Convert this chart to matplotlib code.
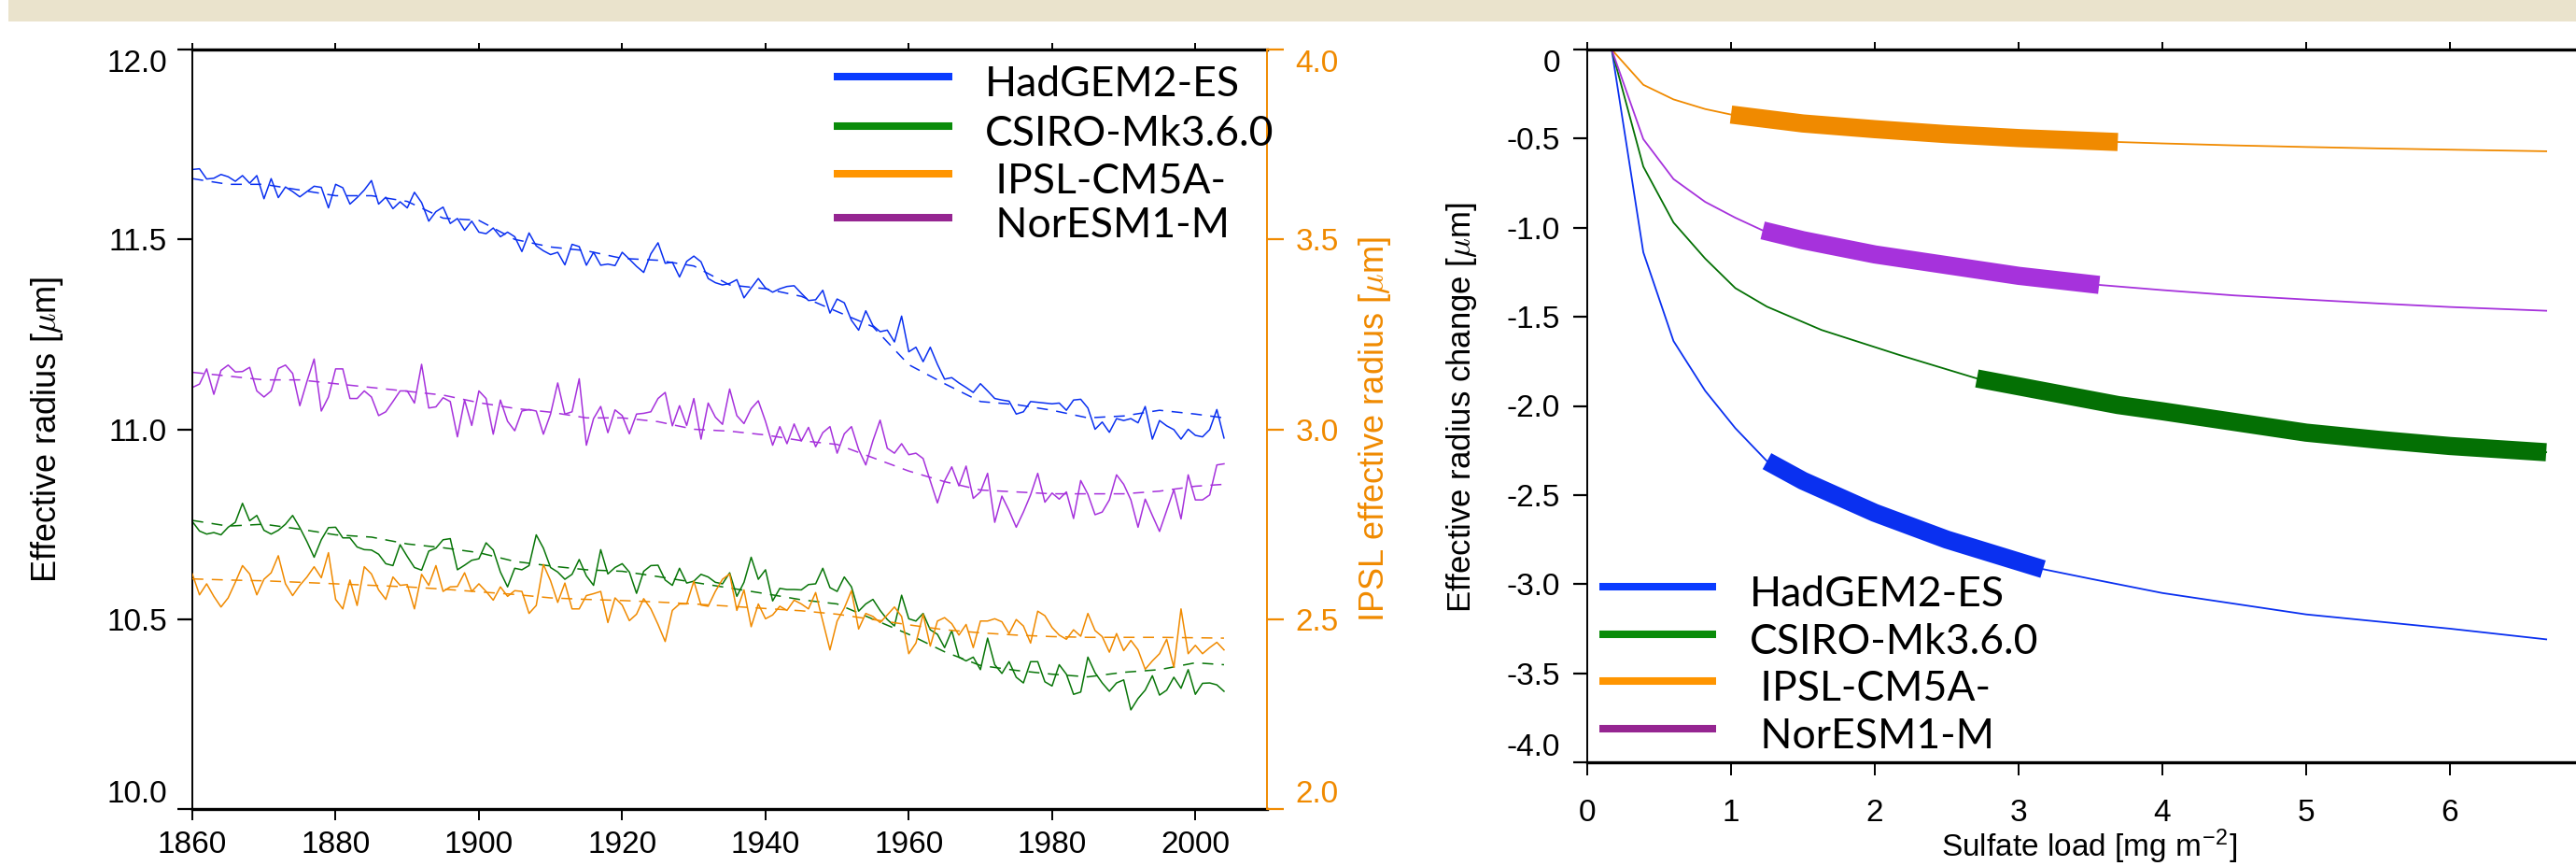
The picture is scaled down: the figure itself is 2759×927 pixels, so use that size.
import matplotlib
matplotlib.use('Agg')
import matplotlib.pyplot as plt
from matplotlib.lines import Line2D
from matplotlib.patches import Rectangle
import numpy as np

# ---------------- data: left panel (annual means 1860-2004) ----------------
years = np.arange(1860, 2005)

had_annual = [
    11.684, 11.686, 11.659, 11.661, 11.671, 11.665, 11.653, 11.668, 11.648, 11.668,
    11.607, 11.660, 11.610, 11.638, 11.626, 11.612, 11.626, 11.640, 11.637, 11.583,
    11.645, 11.636, 11.593, 11.610, 11.630, 11.655, 11.593, 11.611, 11.581, 11.599,
    11.583, 11.624, 11.597, 11.548, 11.573, 11.585, 11.542, 11.555, 11.524, 11.548,
    11.519, 11.515, 11.530, 11.507, 11.519, 11.507, 11.468, 11.517, 11.483, 11.470,
    11.460, 11.466, 11.433, 11.487, 11.481, 11.432, 11.466, 11.432, 11.435, 11.431,
    11.466, 11.448, 11.429, 11.413, 11.462, 11.491, 11.437, 11.440, 11.401, 11.442,
    11.456, 11.441, 11.397, 11.386, 11.380, 11.384, 11.394, 11.346, 11.372, 11.397,
    11.372, 11.361, 11.370, 11.376, 11.378, 11.358, 11.339, 11.341, 11.366, 11.306,
    11.343, 11.333, 11.287, 11.261, 11.312, 11.273, 11.257, 11.261, 11.230, 11.298,
    11.204, 11.216, 11.178, 11.216, 11.171, 11.132, 11.136, 11.122, 11.110, 11.097,
    11.120, 11.101, 11.081, 11.077, 11.074, 11.040, 11.046, 11.073, 11.071, 11.069,
    11.067, 11.069, 11.050, 11.077, 11.079, 11.056, 11.000, 11.019, 10.992, 11.028,
    11.023, 11.028, 11.017, 11.060, 10.974, 11.023, 11.009, 10.999, 10.974, 11.000,
    10.984, 10.980, 10.999, 11.052, 10.977]

nor_annual = [
    11.110, 11.119, 11.159, 11.092, 11.155, 11.169, 11.151, 11.152, 11.163, 11.101,
    11.085, 11.101, 11.160, 11.169, 11.147, 11.062, 11.126, 11.185, 11.048, 11.085,
    11.159, 11.159, 11.081, 11.081, 11.101, 11.085, 11.036, 11.046, 11.073, 11.101,
    11.101, 11.069, 11.171, 11.056, 11.059, 11.083, 11.073, 10.980, 11.077, 11.010,
    11.101, 11.081, 10.987, 11.077, 11.021, 10.996, 11.048, 11.052, 11.048, 10.987,
    11.040, 11.122, 11.040, 11.046, 11.133, 10.958, 11.028, 11.060, 10.991, 11.051,
    11.036, 10.988, 11.040, 11.042, 11.046, 11.081, 11.097, 11.009, 11.062, 11.010,
    11.081, 10.974, 11.069, 11.032, 11.013, 11.106, 11.036, 11.015, 11.054, 11.075,
    11.021, 10.958, 11.007, 10.962, 11.014, 10.969, 11.005, 10.954, 10.991, 11.007,
    10.937, 10.988, 11.007, 10.947, 10.906, 10.970, 11.024, 10.950, 10.937, 10.962,
    10.933, 10.937, 10.923, 10.864, 10.806, 10.864, 10.901, 10.851, 10.903, 10.818,
    10.835, 10.884, 10.755, 10.824, 10.786, 10.742, 10.782, 10.827, 10.884, 10.808,
    10.832, 10.816, 10.835, 10.765, 10.865, 10.829, 10.775, 10.782, 10.814, 10.880,
    10.855, 10.814, 10.742, 10.816, 10.773, 10.731, 10.786, 10.841, 10.764, 10.880,
    10.814, 10.814, 10.827, 10.906, 10.909]

csiro_annual = [
    10.757, 10.732, 10.724, 10.728, 10.722, 10.742, 10.755, 10.805, 10.759, 10.773,
    10.734, 10.724, 10.734, 10.750, 10.773, 10.741, 10.704, 10.663, 10.709, 10.741,
    10.742, 10.714, 10.714, 10.690, 10.683, 10.682, 10.671, 10.646, 10.641, 10.696,
    10.665, 10.636, 10.629, 10.679, 10.687, 10.709, 10.712, 10.630, 10.642, 10.655,
    10.659, 10.701, 10.682, 10.624, 10.585, 10.634, 10.630, 10.641, 10.722, 10.687,
    10.636, 10.624, 10.605, 10.618, 10.657, 10.614, 10.589, 10.683, 10.619, 10.636,
    10.646, 10.624, 10.568, 10.626, 10.641, 10.642, 10.603, 10.589, 10.634, 10.595,
    10.600, 10.618, 10.611, 10.597, 10.593, 10.622, 10.560, 10.597, 10.663, 10.605,
    10.630, 10.548, 10.581, 10.578, 10.578, 10.577, 10.591, 10.593, 10.634, 10.583,
    10.573, 10.611, 10.585, 10.521, 10.540, 10.552, 10.523, 10.499, 10.482, 10.563,
    10.501, 10.495, 10.515, 10.472, 10.460, 10.425, 10.470, 10.400, 10.390, 10.400,
    10.367, 10.450, 10.380, 10.357, 10.388, 10.347, 10.332, 10.388, 10.388, 10.335,
    10.324, 10.380, 10.355, 10.302, 10.308, 10.400, 10.359, 10.332, 10.310, 10.332,
    10.340, 10.261, 10.291, 10.313, 10.351, 10.300, 10.313, 10.347, 10.318, 10.367,
    10.302, 10.331, 10.332, 10.327, 10.310]

ipsl_annual = [
    2.619, 2.564, 2.593, 2.560, 2.532, 2.556, 2.597, 2.641, 2.619, 2.564,
    2.605, 2.622, 2.667, 2.593, 2.562, 2.589, 2.611, 2.638, 2.609, 2.675,
    2.552, 2.527, 2.603, 2.536, 2.638, 2.619, 2.577, 2.552, 2.611, 2.589,
    2.591, 2.527, 2.618, 2.589, 2.641, 2.573, 2.585, 2.586, 2.622, 2.573,
    2.593, 2.573, 2.550, 2.585, 2.560, 2.575, 2.573, 2.515, 2.536, 2.644,
    2.601, 2.544, 2.595, 2.527, 2.527, 2.562, 2.567, 2.573, 2.491, 2.556,
    2.537, 2.496, 2.513, 2.554, 2.527, 2.486, 2.441, 2.523, 2.540, 2.540,
    2.600, 2.537, 2.534, 2.573, 2.605, 2.619, 2.523, 2.577, 2.480, 2.540,
    2.501, 2.511, 2.534, 2.523, 2.550, 2.540, 2.527, 2.570, 2.495, 2.419,
    2.495, 2.529, 2.575, 2.474, 2.515, 2.507, 2.491, 2.511, 2.532, 2.507,
    2.409, 2.437, 2.513, 2.429, 2.495, 2.504, 2.488, 2.458, 2.486, 2.425,
    2.495, 2.495, 2.501, 2.493, 2.462, 2.499, 2.482, 2.437, 2.521, 2.509,
    2.478, 2.458, 2.447, 2.472, 2.455, 2.515, 2.470, 2.454, 2.413, 2.462,
    2.417, 2.444, 2.419, 2.368, 2.390, 2.409, 2.447, 2.373, 2.527, 2.409,
    2.431, 2.409, 2.425, 2.439, 2.419]

# smoothed (dashed) curves, read every 5 years
smooth_years = [1860, 1865, 1870, 1875, 1880, 1885, 1890, 1895, 1900, 1905,
                1910, 1915, 1920, 1925, 1930, 1935, 1940, 1945, 1950, 1955,
                1960, 1965, 1970, 1975, 1980, 1985, 1990, 1995, 2000, 2004]
had_smooth = [11.66, 11.645, 11.645, 11.63, 11.615, 11.615, 11.60, 11.556, 11.55, 11.50,
              11.48, 11.47, 11.45, 11.445, 11.43, 11.38, 11.37, 11.35, 11.31, 11.27,
              11.17, 11.12, 11.073, 11.065, 11.05, 11.03, 11.035, 11.05, 11.04, 11.03]
nor_smooth = [11.15, 11.14, 11.13, 11.13, 11.12, 11.11, 11.10, 11.09, 11.07, 11.055,
              11.045, 11.03, 11.03, 11.02, 11.00, 10.995, 10.985, 10.97, 10.96, 10.925,
              10.89, 10.862, 10.84, 10.835, 10.83, 10.83, 10.83, 10.837, 10.85, 10.855]
csiro_smooth = [10.76, 10.745, 10.75, 10.737, 10.722, 10.716, 10.698, 10.688, 10.675, 10.652,
                10.64, 10.63, 10.626, 10.612, 10.597, 10.582, 10.567, 10.551, 10.54, 10.50,
                10.46, 10.414, 10.378, 10.365, 10.355, 10.348, 10.36, 10.367, 10.385, 10.38]
ipsl_smooth = [2.606, 2.603, 2.601, 2.597, 2.593, 2.589, 2.585, 2.579, 2.572, 2.565,
               2.556, 2.552, 2.549, 2.545, 2.540, 2.534, 2.528, 2.522, 2.513, 2.499,
               2.485, 2.472, 2.464, 2.458, 2.454, 2.452, 2.452, 2.452, 2.451, 2.450]

# ---------------- data: right panel (radius change vs sulfate load) ----------------
had_load = [0.17, 0.39, 0.6, 0.82, 1.03, 1.25, 1.5, 2.0, 2.5, 3.17, 3.5, 4.0, 4.5, 5.0, 5.5, 6.0, 6.67]
had_drad = [0, -1.138, -1.636, -1.915, -2.125, -2.31, -2.42, -2.60, -2.75, -2.916, -2.97, -3.05,
            -3.11, -3.17, -3.21, -3.25, -3.31]
csiro_load = [0.17, 0.39, 0.6, 0.82, 1.03, 1.25, 1.63, 2.17, 2.71, 3.0, 3.69, 4.0, 4.5, 5.0, 5.5, 6.0, 6.67]
csiro_drad = [0, -0.657, -0.971, -1.173, -1.339, -1.443, -1.574, -1.714, -1.846, -1.89, -1.995,
              -2.03, -2.09, -2.15, -2.19, -2.225, -2.26]
ipsl_load = [0.17, 0.39, 0.6, 0.82, 1.0, 1.5, 2.0, 2.5, 3.0, 3.69, 4.0, 4.5, 5.0, 5.5, 6.0, 6.67]
ipsl_drad = [0, -0.198, -0.28, -0.334, -0.365, -0.415, -0.447, -0.475, -0.497, -0.519, -0.527,
             -0.538, -0.547, -0.555, -0.562, -0.571]
nor_load = [0.17, 0.39, 0.6, 0.82, 1.03, 1.22, 1.5, 2.0, 2.5, 3.0, 3.56, 4.0, 4.5, 5.0, 5.5, 6.0, 6.67]
nor_drad = [0, -0.503, -0.727, -0.855, -0.944, -1.015, -1.07, -1.15, -1.21, -1.27, -1.321, -1.35,
            -1.38, -1.403, -1.425, -1.445, -1.466]
# load range covered by each model's historical period (thick band)
band_range = {'had': (1.25, 3.17), 'csiro': (2.71, 6.67), 'ipsl': (1.0, 3.69), 'nor': (1.22, 3.56)}

models = ['HadGEM2-ES', 'CSIRO-Mk3.6.0', ' IPSL-CM5A-', ' NorESM1-M']
left_yticks = [10.0, 10.5, 11.0, 11.5, 12.0]
left_ytick_labels = ['10.0', '10.5', '11.0', '11.5', '12.0']
ipsl_yticks = [2.0, 2.5, 3.0, 3.5, 4.0]
ipsl_ytick_labels = ['2.0', '2.5', '3.0', '3.5', '4.0']
year_ticks = [1860, 1880, 1900, 1920, 1940, 1960, 1980, 2000]
load_ticks = [0, 1, 2, 3, 4, 5, 6]
drad_ticks = [0, -0.5, -1.0, -1.5, -2.0, -2.5, -3.0, -3.5, -4.0]
drad_tick_labels = ['0', '-0.5', '-1.0', '-1.5', '-2.0', '-2.5', '-3.0', '-3.5', '-4.0']

# ---------------- style ----------------
plt.rcParams['font.family'] = ['Liberation Sans', 'DejaVu Sans']
plt.rcParams['mathtext.fontset'] = 'cm'
plt.rcParams['lines.scale_dashes'] = False

W, H = 2759, 927
fig = plt.figure(figsize=(W / 100, H / 100), dpi=100)
fig.patch.set_facecolor('white')

C_BLUE = '#0a30f0'
C_GREEN = '#087508'
C_ORANGE = '#f08a00'
C_PURPLE = '#a632dc'
LEG_COLORS = ['#0a3cff', '#0a8c0a', '#ff9500', '#952591']
TICK_FS = 24

fig.add_artist(Rectangle((9 / W, 1 - 23 / H), 1 - 9 / W, 23 / H, transform=fig.transFigure,
                         facecolor='#EAE3CC', edgecolor='none', zorder=0))

# ---------------- left panel ----------------
ax1 = fig.add_axes([206 / W, 1 - 866 / H, 1151 / W, 813 / H])
ax2 = ax1.twinx()
lw = 1.1
dash = (0, (8.5, 6.5))
ax1.plot(years, had_annual, color=C_BLUE, lw=lw)
ax1.plot(smooth_years, had_smooth, color=C_BLUE, lw=lw, linestyle=dash)
ax1.plot(years, nor_annual, color=C_PURPLE, lw=lw)
ax1.plot(smooth_years, nor_smooth, color=C_PURPLE, lw=lw, linestyle=dash)
ax1.plot(years, csiro_annual, color=C_GREEN, lw=lw)
ax1.plot(smooth_years, csiro_smooth, color=C_GREEN, lw=lw, linestyle=dash)
ax2.plot(years, ipsl_annual, color=C_ORANGE, lw=lw)
ax2.plot(smooth_years, ipsl_smooth, color=C_ORANGE, lw=lw, linestyle=dash)

ax1.set_xlim(1860, 2010)
ax1.set_ylim(10.0, 12.0)
ax2.set_ylim(2.0, 4.0)
ax1.set_xticks(year_ticks)
ax1.set_xticklabels([str(y) for y in year_ticks])
ax1.set_yticks(left_yticks)
ax1.set_yticklabels(left_ytick_labels)
ax2.set_yticks(ipsl_yticks)
ax2.set_yticklabels(ipsl_ytick_labels)

for sp in ['top', 'bottom']:
    ax1.spines[sp].set_linewidth(2.4)
ax1.spines['left'].set_linewidth(1.4)
ax1.spines['right'].set_visible(False)
for sp in ['top', 'bottom', 'left']:
    ax2.spines[sp].set_visible(False)
ax2.spines['right'].set_color(C_ORANGE)
ax2.spines['right'].set_linewidth(1.4)

ax1.tick_params(axis='y', direction='out', length=11.5, width=1.6, pad=8, labelsize=TICK_FS)
ax1.tick_params(axis='x', direction='out', length=8.6, width=1.4, pad=8, labelsize=TICK_FS,
                top=True)
for t in ax1.xaxis.get_major_ticks():
    t.tick2line.set_markersize(5)
ax2.tick_params(axis='y', direction='out', length=13, width=1.6, pad=9, labelsize=TICK_FS,
                colors=C_ORANGE)

ylabs = ax1.get_yticklabels()
ylabs[0].set_va('bottom')
ylabs[-1].set_va('top')
ylabs2 = ax2.get_yticklabels()
ylabs2[0].set_va('bottom')
ylabs2[-1].set_va('top')

ax1.set_ylabel(r'Effective radius [$\mu$m]', fontsize=26)
ax1.yaxis.label.set_va('center')
ax1.yaxis.set_label_coords((51 - 206) / 1151, 0.5)
ax2.set_ylabel(r'IPSL effective radius [$\mu$m]', fontsize=26, color=C_ORANGE)
ax2.yaxis.label.set_va('center')
ax2.yaxis.set_label_coords((1473 - 206) / 1151, 0.5)

# ---------------- right panel ----------------
ax3 = fig.add_axes([1700 / W, 1 - 816 / H, 1059 / W, 763 / H])
thin = 1.3
thick = 14
curves = [('had', had_load, had_drad, C_BLUE),
          ('csiro', csiro_load, csiro_drad, '#047004'),
          ('ipsl', ipsl_load, ipsl_drad, C_ORANGE),
          ('nor', nor_load, nor_drad, C_PURPLE)]
for key, xs, ys, col in curves:
    xs = np.asarray(xs)
    ys = np.asarray(ys)
    ax3.plot(xs, ys, color=col, lw=thin, zorder=2)
    lo, hi = band_range[key]
    m = (xs >= lo - 1e-9) & (xs <= hi + 1e-9)
    ax3.plot(xs[m], ys[m], color=col, lw=thick, solid_capstyle='butt',
             solid_joinstyle='round', zorder=3)

ax3.set_xlim(0, 6.877)
ax3.set_ylim(-4.0, 0.0)
ax3.set_xticks(load_ticks)
ax3.set_xticklabels([str(v) for v in load_ticks])
ax3.set_yticks(drad_ticks)
ax3.set_yticklabels(drad_tick_labels)
for sp in ['top', 'bottom']:
    ax3.spines[sp].set_linewidth(2.4)
ax3.spines['left'].set_linewidth(1.4)
ax3.spines['right'].set_visible(False)
ax3.tick_params(axis='y', direction='out', length=10.8, width=1.6, pad=10, labelsize=TICK_FS)
ax3.tick_params(axis='x', direction='out', length=10, width=1.4, pad=18, labelsize=TICK_FS,
                top=True)
for t in ax3.xaxis.get_major_ticks():
    t.tick2line.set_markersize(5.8)
ylabs3 = ax3.get_yticklabels()
ylabs3[0].set_va('top')      # '0' at top
ylabs3[-1].set_va('bottom')  # '-4.0' at bottom

ax3.set_ylabel(r'Effective radius change [$\mu$m]', fontsize=25)
ax3.yaxis.label.set_va('center')
ax3.yaxis.set_label_coords((1565 - 1700) / 1059, 0.498)
ax3.set_xlabel(r'Sulfate load [mg m$^{\mathregular{-2}}$]', fontsize=24)
ax3.xaxis.label.set_va('center')
ax3.xaxis.set_label_coords((2238 - 1700) / 1059, (816 - 906) / 763)

# ---------------- legends (figure coordinates, pixels) ----------------
def draw_legend(hx0, hx1, rows_y, text_x, base_off):
    for i, (lab, col) in enumerate(zip(models, LEG_COLORS)):
        y = rows_y[i]
        fig.add_artist(Line2D([hx0 / W, hx1 / W], [1 - y / H, 1 - y / H],
                              transform=fig.transFigure, color=col, lw=5.8,
                              solid_capstyle='butt', zorder=10))
        fig.text(text_x / W, 1 - (y + base_off) / H, lab, fontsize=32,
                 family=['Lato', 'DejaVu Sans'], va='baseline', ha='left', zorder=10)

draw_legend(893, 1020, [82, 135, 186, 233], 1055, 21)
draw_legend(1713, 1838, [628, 679, 729, 780], 1874, 21)

fig.savefig('out.png', dpi=100)
